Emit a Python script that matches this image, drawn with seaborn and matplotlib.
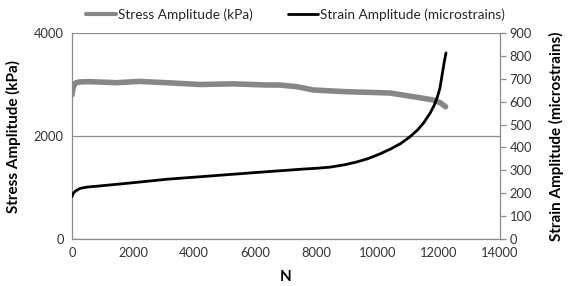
import matplotlib
matplotlib.use("Agg")
import matplotlib.pyplot as plt
import seaborn as sns
import pandas as pd

# ── data ───────────────────────────────────────────────────────────────────
n_stress = [0, 40, 120, 250, 600, 1460, 2200, 3100, 4190, 5270, 6370, 6800,
            7350, 7900, 8980, 10080, 10400, 11170, 11820, 12040, 12220]
stress = [2800, 2950, 3030, 3050, 3055, 3035, 3060, 3035, 3000, 3013, 2990,
          2990, 2958, 2893, 2860, 2841, 2835, 2763, 2699, 2647, 2569]

n_strain = [0, 20, 44, 120, 262, 500, 916, 2000, 3095, 4187, 5270, 6368,
            7000, 7500, 8000, 8440, 8900, 9300, 9700, 10075, 10400, 10750,
            11056, 11300, 11500, 11710, 11850, 11950, 12037, 12110, 12178,
            12234]
strain = [185, 193, 200, 210, 221, 227, 232, 246, 261, 272, 283, 294,
          300, 305, 309, 314, 324, 336, 352, 372, 392, 417,
          447, 476, 507, 549, 585, 620, 660, 720, 775, 813]

left_ticks = [0, 2000, 4000]
right_ticks = list(range(0, 1000, 100))
x_ticks = list(range(0, 16000, 2000))

stress_df = pd.DataFrame({"N": n_stress, "value": stress})
strain_df = pd.DataFrame({"N": n_strain, "value": strain})

sns.set_theme(style="white")
plt.rcParams["font.family"] = ["Lato", "DejaVu Sans"]

grid_col = "#8c8c8c"
fig = plt.figure(figsize=(5.74, 2.86), dpi=100)
ax = fig.add_axes([0.1254, 0.1643, 0.7457, 0.7203])
ax2 = ax.twinx()

sns.lineplot(data=stress_df, x="N", y="value", ax=ax, sort=False,
             color="#878787", linewidth=4, label="Stress Amplitude (kPa)",
             legend=False)
sns.lineplot(data=strain_df, x="N", y="value", ax=ax2, sort=False,
             color="black", linewidth=2.0,
             label="Strain Amplitude (microstrains)", legend=False)

ax.set_xlim(0, 14000)
ax.set_ylim(0, 4000)
ax2.set_ylim(0, 900)
ax.set_xticks(x_ticks)
ax.set_yticks(left_ticks)
ax2.set_yticks(right_ticks)

for a in (ax, ax2):
    for side in ("top", "left", "right", "bottom"):
        a.spines[side].set_visible(False)
ax.spines["left"].set_visible(True)
ax.spines["bottom"].set_visible(True)
ax2.spines["right"].set_visible(True)
for sp in (ax.spines["left"], ax.spines["bottom"], ax2.spines["right"]):
    sp.set_color(grid_col)
    sp.set_linewidth(0.9)

ax.yaxis.grid(True, color=grid_col, linewidth=0.9)
ax.set_axisbelow(True)

ax.tick_params(axis="both", length=0, labelsize=9.3, colors="#333333", pad=6)
ax2.tick_params(axis="y", length=4, width=0.9, color=grid_col, labelsize=9.3,
                labelcolor="#333333", pad=3)

ax.set_xlabel("N", fontsize=11, fontweight="bold", color="black", labelpad=8)
ax.set_ylabel("Stress Amplitude (kPa)", fontsize=11, fontweight="bold",
              color="black", labelpad=9)
ax2.set_ylabel("Strain Amplitude (microstrains)", fontsize=11,
               fontweight="bold", color="black", labelpad=12)

h1, l1 = ax.get_legend_handles_labels()
h2, l2 = ax2.get_legend_handles_labels()
leg = fig.legend(h1 + h2, l1 + l2, loc="upper center",
                 bbox_to_anchor=(0.515, 1.015), ncol=2, frameon=False,
                 fontsize=9.8, handlelength=2.2, handletextpad=0.15,
                 columnspacing=2.6)
leg.get_lines()[0].set_linewidth(3)
leg.get_lines()[1].set_linewidth(2)

fig.savefig("out.png", dpi=100)
